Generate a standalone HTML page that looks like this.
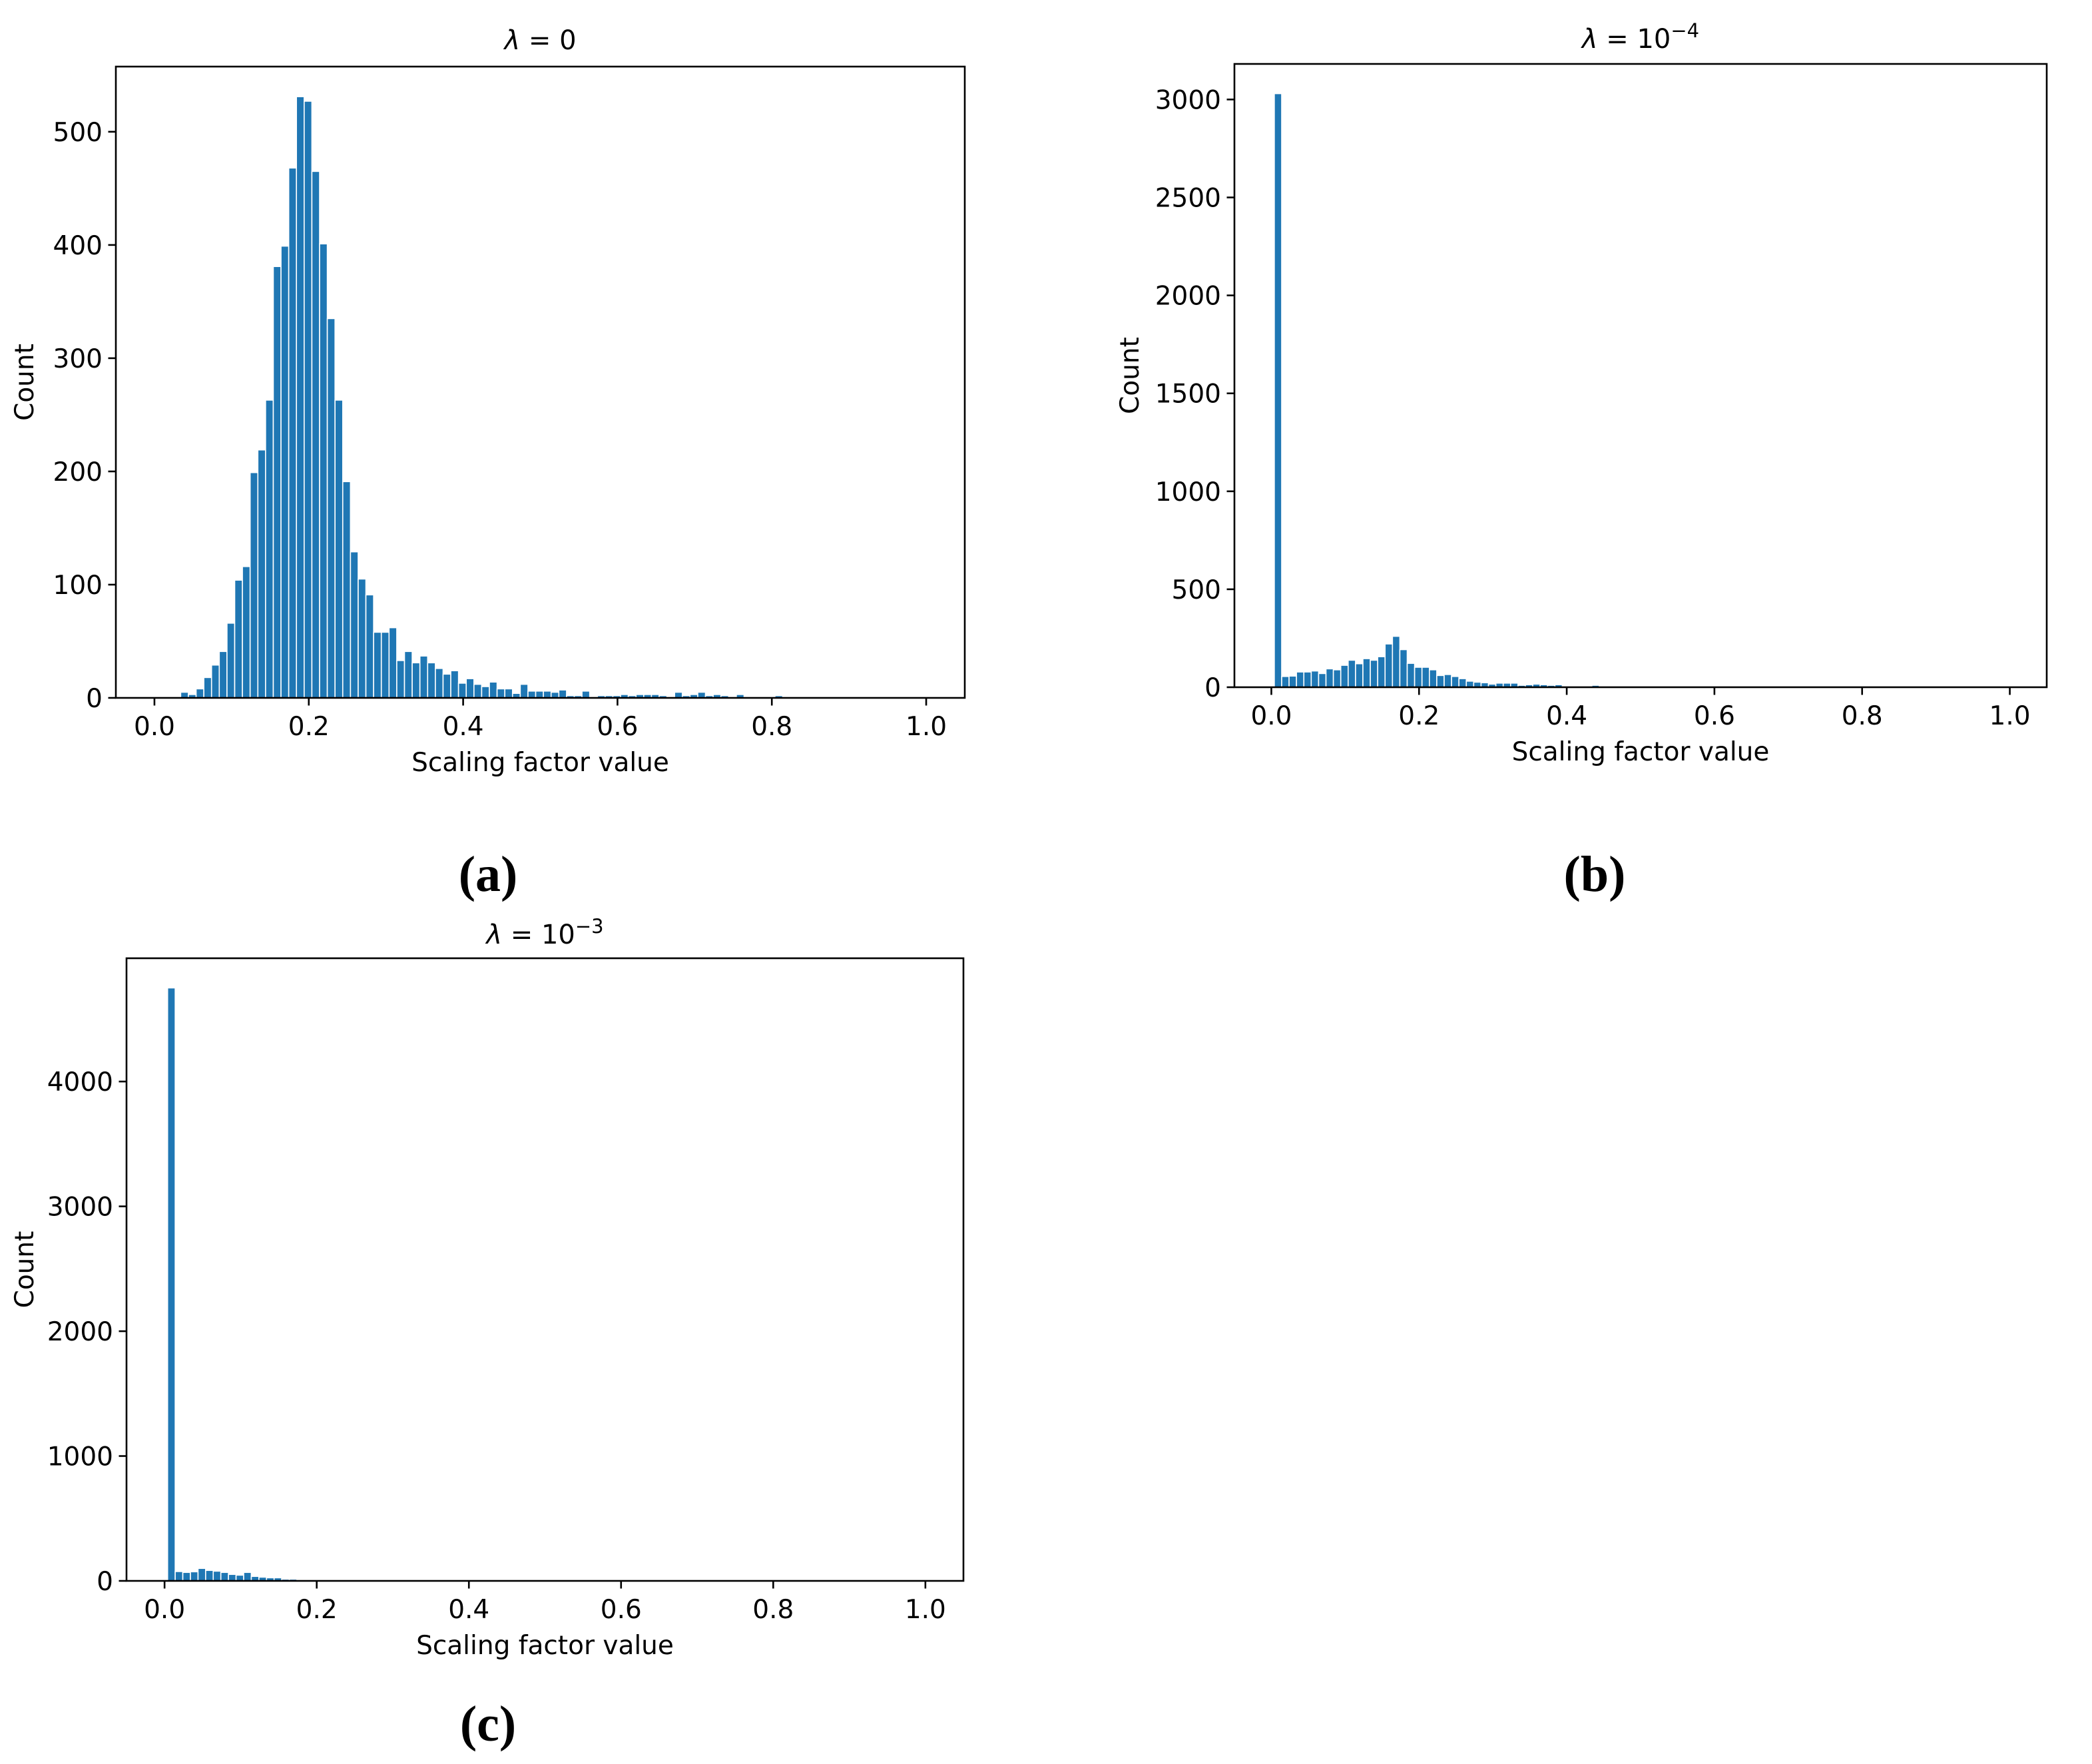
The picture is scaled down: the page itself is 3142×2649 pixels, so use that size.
<!DOCTYPE html>
<html><head><meta charset="utf-8"><style>
html,body{margin:0;padding:0;background:#fff;}
svg{display:block;font-family:"DejaVu Sans","Liberation Sans",sans-serif;}
</style></head>
<body>
<svg id="fig" width="3142" height="2649" viewBox="0 0 3142 2649" xmlns="http://www.w3.org/2000/svg">
<rect x="0" y="0" width="3142" height="2649" fill="#fff"/>
<text x="733" y="1338" font-family="Liberation Serif,serif" font-weight="bold" font-size="76" text-anchor="middle">(a)</text>
<text x="2395" y="1338" font-family="Liberation Serif,serif" font-weight="bold" font-size="76" text-anchor="middle">(b)</text>
<text x="733" y="2614" font-family="Liberation Serif,serif" font-weight="bold" font-size="76" text-anchor="middle">(c)</text>
</svg>
<script>
const xTickVals = [0.0, 0.2, 0.4, 0.6, 0.8, 1.0];
const xTickLabels = ["0.0", "0.2", "0.4", "0.6", "0.8", "1.0"];
const binStart = 0.004;
const binWidth = 0.01;
const countsA = [0,0,0,5,3,8,18,29,41,66,104,116,199,219,263,381,399,468,531,527,465,401,335,263,191,129,105,91,58,58,62,33,41,31,37,31,26,21,24,13,17,12,10,14,8,8,4,12,6,6,6,5,7,2,2,6,0,2,2,2,3,2,3,3,3,2,0,5,2,3,5,2,3,2,0,3,0,0,0,0,2,0,0,0,0,0,0,0,0,0,0,0,0,0,0,0,0,0,0,0];
const countsB = [3030,55,57,78,78,83,70,94,89,112,138,120,146,138,156,221,260,192,122,102,102,89,60,65,55,44,31,26,23,16,21,21,21,10,13,16,13,10,13,5,3,3,3,10];
const countsC = [4750,75,68,73,100,84,78,68,52,46,68,36,30,25,25,14,14,5,9,4,0,4];
const yTicksA = [0,100,200,300,400,500];
const yTicksB = [0,500,1000,1500,2000,2500,3000];
const yTicksC = [0,1000,2000,3000,4000];

const NS = "http://www.w3.org/2000/svg";
const fig = document.getElementById("fig");
function mk(tag, attrs, parent){
  const e = document.createElementNS(NS, tag);
  for (const k in attrs) e.setAttribute(k, attrs[k]);
  (parent||fig).appendChild(e);
  return e;
}
function panel(id, box, counts, yTicks, titleSup, countX, titleY){
  const g = mk("g", {});
  
  
  const L = box.l, R = box.r, T = box.t, B = box.b;
  const xmin = -0.05, xmax = 1.05;
  const ymax = Math.max(...counts) * 1.05;
  const sx = v => L + (v - xmin) / (xmax - xmin) * (R - L);
  const sy = v => B - v / ymax * (B - T);
  counts.forEach((c, i) => {
    if (c <= 0) return;
    const x0 = sx(binStart + i * binWidth), x1 = sx(binStart + (i + 1) * binWidth);
    const r = mk("rect", {x: x0, y: sy(c), width: x1 - x0, height: B - sy(c), fill: "#1f77b4", stroke: "#fff", "stroke-width": 1.6}, g);
    
    
  });
  const frame = mk("rect", {x: L, y: T, width: R - L, height: B - T, fill: "none", stroke: "#000", "stroke-width": 2.6}, g);
  
  
  xTickVals.forEach((v, i) => {
    const x = sx(v);
    mk("line", {x1: x, x2: x, y1: B, y2: B + 11.5, stroke: "#000", "stroke-width": 2.6}, g);
    const t = mk("text", {x: x, y: B + 56, "font-size": 39, "text-anchor": "middle"}, g);
    t.textContent = xTickLabels[i];
    
    
  });
  yTicks.forEach(v => {
    const y = sy(v);
    mk("line", {x1: L - 11.5, x2: L, y1: y, y2: y, stroke: "#000", "stroke-width": 2.6}, g);
    const t = mk("text", {x: L - 20, y: y + 14, "font-size": 39, "text-anchor": "end"}, g);
    t.textContent = String(v);
    
    
  });
  const xl = mk("text", {x: (L + R) / 2, y: B + 110, "font-size": 39, "text-anchor": "middle"}, g);
  xl.textContent = "Scaling factor value";
  
  
  const yl = mk("text", {x: 0, y: 0, "font-size": 39, "text-anchor": "middle", transform: "translate(" + (countX + 14) + "," + ((T + B) / 2) + ") rotate(-90)"}, g);
  yl.textContent = "Count";
  
  
  const tt = mk("text", {x: (L + R) / 2, y: titleY, "font-size": 40, "text-anchor": "middle"}, g);
  
  
  const lam = mk("tspan", {"font-style": "italic"}, tt); lam.textContent = "λ";
  const eq = mk("tspan", {}, tt);
  eq.textContent = titleSup === null ? " = 0" : " = 10";
  if (titleSup !== null) {
    const sup = mk("tspan", {dy: -16, "font-size": 29}, tt);
    sup.textContent = titleSup;
  }
}
panel("a", {l: 174, r: 1449, t: 100, b: 1048}, countsA, yTicksA, null, 36, 74);
panel("b", {l: 1854, r: 3074, t: 96, b: 1032}, countsB, yTicksB, "\u22124", 1696, 72);
panel("c", {l: 190, r: 1447, t: 1439, b: 2374}, countsC, yTicksC, "\u22123", 36, 1417);
</script>
</body></html>
